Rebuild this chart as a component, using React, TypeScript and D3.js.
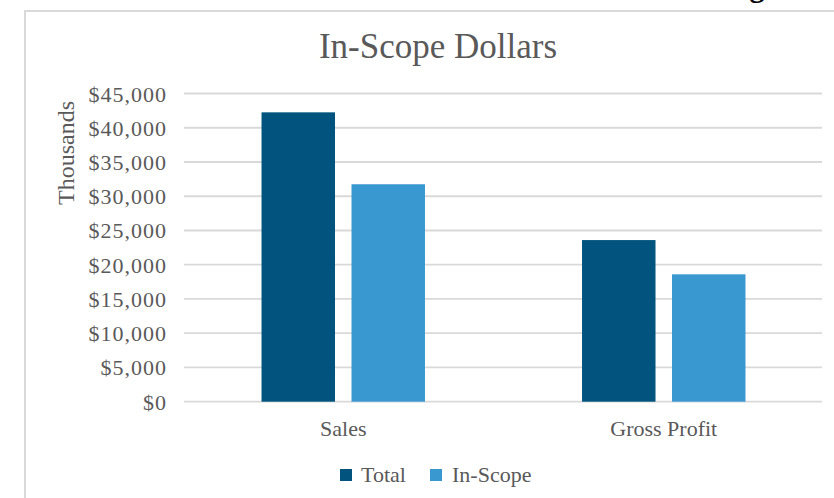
import React from "react";
import * as d3 from "d3";

const categories = ["Sales", "Gross Profit"];
const seriesNames = ["Total", "In-Scope"];
const totalValues = [42250, 23600];
const inScopeValues = [31750, 18600];
const yTicks = [0, 5000, 10000, 15000, 20000, 25000, 30000, 35000, 40000, 45000];
const colors = ["#02547f", "#3a98d0"];

const W = 834;
const H = 498;
const SERIF = "'Liberation Serif', 'Times New Roman', serif";
const TEXT = "#595959";

export default function App() {
  const x0 = d3.scaleBand<string>().domain(categories).range([183, 824]).padding(0);
  const band = x0.bandwidth();
  const x1 = d3
    .scaleBand<string>()
    .domain(seriesNames)
    .range([band * 0.245, band * 0.755])
    .paddingInner(0.1833)
    .paddingOuter(0);
  const y = d3.scaleLinear().domain([0, 45000]).range([401.7, 93.5]);
  const fmt = (v: number) => "$" + d3.format(",")(v);
  const seriesValues = [totalValues, inScopeValues];

  return (
    <div style={{ position: "absolute", left: 0, top: 0 }}>
      <svg width={W} height={H} style={{ display: "block", background: "#fff" }}>
        <text x={757} y={-3} textAnchor="middle" fontFamily={SERIF} fontWeight="bold" fontSize={30} fill="#000">
          g
        </text>
        <rect x={25} y={11} width={W} height={H} fill="#fff" stroke="#d9d9d9" strokeWidth={2} />
        <text x={438} y={58} textAnchor="middle" fontFamily={SERIF} fontSize={35} fill={TEXT}>
          In-Scope Dollars
        </text>
        {yTicks.map((t) => (
          <g key={t}>
            <line x1={184} x2={822} y1={y(t)} y2={y(t)} stroke="#d9d9d9" strokeWidth={1.8} />
            <text
              x={167}
              y={y(t) + 8}
              textAnchor="end"
              fontFamily={SERIF}
              fontSize={22}
              letterSpacing={1}
              fill={TEXT}
            >
              {fmt(t)}
            </text>
          </g>
        ))}
        <text
          transform={`translate(74,153) rotate(-90)`}
          textAnchor="middle"
          fontFamily={SERIF}
          fontSize={24}
          fill={TEXT}
        >
          Thousands
        </text>
        {categories.map((c, i) => (
          <g key={c} transform={`translate(${x0(c)},0)`}>
            {seriesNames.map((s, j) => (
              <rect
                key={s}
                x={x1(s)}
                y={y(seriesValues[j][i])}
                width={x1.bandwidth()}
                height={y(0) - y(seriesValues[j][i])}
                fill={colors[j]}
              />
            ))}
            <text x={band / 2} y={436} textAnchor="middle" fontFamily={SERIF} fontSize={22} fill={TEXT}>
              {c}
            </text>
          </g>
        ))}
        <g>
          <rect x={340} y={469} width={12} height={12} fill={colors[0]} />
          <text x={361} y={482} fontFamily={SERIF} fontSize={22} fill={TEXT}>
            {seriesNames[0]}
          </text>
          <rect x={430} y={469} width={12} height={12} fill={colors[1]} />
          <text x={452} y={482} fontFamily={SERIF} fontSize={22} fill={TEXT}>
            {seriesNames[1]}
          </text>
        </g>
      </svg>
    </div>
  );
}
